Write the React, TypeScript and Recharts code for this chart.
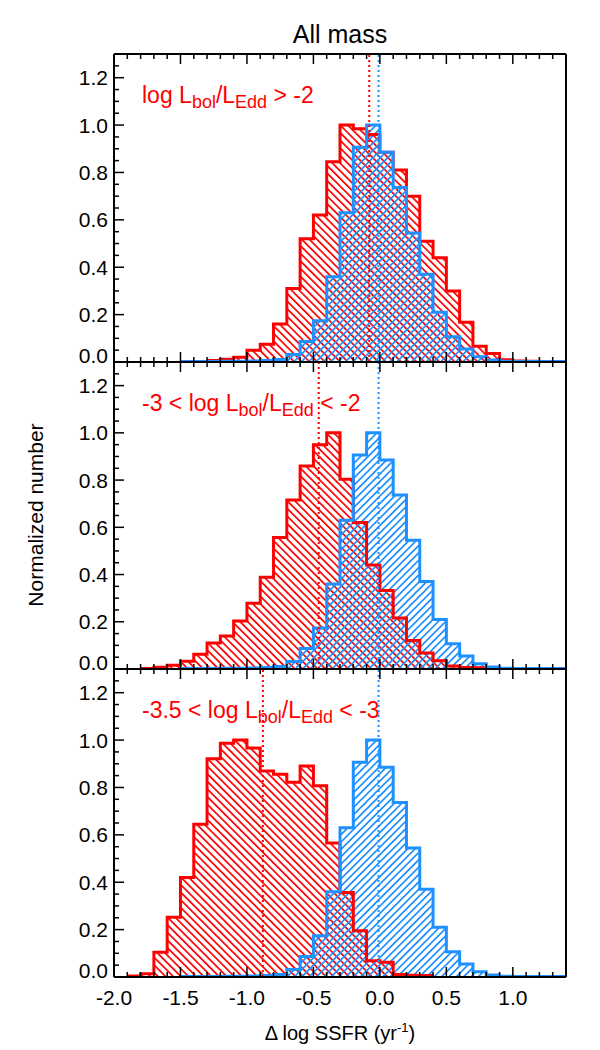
import { ComposedChart, Area, Line, XAxis, YAxis, ReferenceLine } from "recharts";

const RED = "#ff0000";
const BLUE = "#1e90ff";
const FONT = "'Liberation Sans', Arial, Helvetica, sans-serif";

// bin edges of the histograms (also the minor x ticks)
const binEdges = [
  -2.0, -1.9, -1.8, -1.7, -1.6, -1.5, -1.4, -1.3, -1.2, -1.1, -1.0, -0.9, -0.8, -0.7, -0.6, -0.5, -0.4,
  -0.3, -0.2, -0.1, 0.0, 0.1, 0.2, 0.3, 0.4, 0.5, 0.6, 0.7, 0.8, 0.9, 1.0, 1.1, 1.2, 1.3, 1.4,
];
const yTicks = [
  0, 0.05, 0.1, 0.15, 0.2, 0.25, 0.3, 0.35, 0.4, 0.45, 0.5, 0.55, 0.6, 0.65, 0.7, 0.75, 0.8, 0.85, 0.9,
  0.95, 1.0, 1.05, 1.1, 1.15, 1.2, 1.25,
];

// normalized counts per 0.1 bin, first bin = [-2.0, -1.9]
const redHigh = [
  null, null, null, null, null, null, null, 0.006, 0.012, 0.02, 0.05, 0.075, 0.16, 0.31, 0.52, 0.62, 0.845,
  1.0, 0.985, 0.96, 0.885, 0.81, 0.7, 0.51, 0.44, 0.3, 0.168, 0.067, 0.036, 0.01, 0.004, 0.003, 0.002, 0.002,
];
const redMid = [
  null, null, 0.002, 0.007, 0.016, 0.033, 0.062, 0.11, 0.14, 0.203, 0.278, 0.388, 0.557, 0.716, 0.86, 0.95,
  1.0, 0.804, 0.62, 0.44, 0.332, 0.216, 0.121, 0.068, 0.035, 0.013, 0.006, 0.005, 0.002, null, null, null,
  null, null,
];
const redLow = [
  null, 0.004, 0.014, 0.104, 0.252, 0.42, 0.645, 0.921, 0.987, 1.0, 0.967, 0.87, 0.856, 0.822, 0.891, 0.807,
  0.566, 0.357, 0.195, 0.069, 0.062, 0.011, 0.007, 0.006, null, null, null, null, null, null, null, null,
  null, null,
];
const control = [
  null, null, null, null, null, 0.002, 0.002, 0.002, 0.003, 0.003, 0.004, 0.006, 0.011, 0.032, 0.087,
  0.174, 0.36, 0.63, 0.906, 1.0, 0.885, 0.737, 0.545, 0.37, 0.21, 0.107, 0.055, 0.022, 0.008, 0.003, 0.002,
  0.002, 0.002, 0.002,
];

// median offsets (dotted lines)
const redMedians = [-0.08, -0.46, -0.88];
const controlMedian = -0.01;

const panelRanges = ["", "-3 < ", "-3.5 < "];
const panelLimits = [" > -2", " < -2", " < -3"];

function stepValue(arr: (number | null)[], i: number) {
  if (i < arr.length && arr[i] != null) return arr[i];
  if (i > 0 && arr[i - 1] != null) return arr[i - 1];
  return null;
}

function XTick(props: any) {
  const { x, y, payload, dir, label } = props;
  const v = payload.value;
  const major = Math.abs(v * 2 - Math.round(v * 2)) < 1e-6;
  const len = major ? 10 : 5;
  return (
    <g>
      <line x1={x} x2={x} y1={y} y2={y + dir * len} stroke="#000" strokeWidth={1.5} />
      {label && major && v < 1.3 && (
        <text x={x} y={y + 28} textAnchor="middle" fontSize={21} fontFamily={FONT} fill="#000">
          {v.toFixed(1)}
        </text>
      )}
    </g>
  );
}

function YTick(props: any) {
  const { x, y, payload, dir, label } = props;
  const v = payload.value;
  const major = Math.abs(v * 5 - Math.round(v * 5)) < 1e-6;
  const len = major ? 10 : 5;
  return (
    <g>
      <line x1={x} x2={x + dir * len} y1={y} y2={y} stroke="#000" strokeWidth={1.5} />
      {label && major && (
        <text x={x - 6} y={v === 0 ? y - 7 : y} dy="0.36em" textAnchor="end" fontSize={21} fontFamily={FONT} fill="#000">
          {v.toFixed(1)}
        </text>
      )}
    </g>
  );
}

function Panel(props: any) {
  const { idx, red, top, topH, plotH, botH, last, children } = props;
  const rows = binEdges.map((x, i) => ({ x, red: stepValue(red, i), blue: stepValue(control, i) }));
  const axisLine = { stroke: "#000", strokeWidth: 2 };
  return (
    <div style={{ position: "absolute", left: 0, top }}>
      <ComposedChart width={600} height={topH + plotH + botH} data={rows} margin={{ top: 0, right: 0, bottom: 0, left: 0 }}>
        <defs>
          <pattern id={`hr${idx}`} width={5.4} height={5.4} patternUnits="userSpaceOnUse" patternTransform="rotate(-45)">
            <rect x={0} y={0} width={1.7} height={5.4} fill={RED} />
          </pattern>
          <pattern id={`hb${idx}`} width={5.2} height={5.2} patternUnits="userSpaceOnUse" patternTransform="rotate(45)">
            <rect x={0} y={0} width={1.7} height={5.2} fill={BLUE} />
          </pattern>
        </defs>
        <XAxis
          xAxisId="b"
          dataKey="x"
          type="number"
          domain={[-2, 1.4]}
          ticks={binEdges}
          interval={0}
          height={botH}
          tickSize={0}
          tickMargin={0}
          tickLine={false}
          axisLine={axisLine}
          tick={(p: any) => <XTick {...p} dir={-1} label={last} />}
        />
        <XAxis
          xAxisId="t"
          orientation="top"
          dataKey="x"
          type="number"
          domain={[-2, 1.4]}
          ticks={binEdges}
          interval={0}
          height={topH}
          tickSize={0}
          tickMargin={0}
          tickLine={false}
          axisLine={axisLine}
          tick={(p: any) => <XTick {...p} dir={1} label={false} />}
        />
        <YAxis
          yAxisId="l"
          type="number"
          domain={[0, 1.3]}
          ticks={yTicks}
          interval={0}
          width={114}
          tickSize={0}
          tickMargin={0}
          tickLine={false}
          axisLine={axisLine}
          tick={(p: any) => <YTick {...p} dir={1} label={true} />}
        />
        <YAxis
          yAxisId="r"
          orientation="right"
          type="number"
          domain={[0, 1.3]}
          ticks={yTicks}
          interval={0}
          width={34}
          tickSize={0}
          tickMargin={0}
          tickLine={false}
          axisLine={axisLine}
          tick={(p: any) => <YTick {...p} dir={-1} label={false} />}
        />
        <Area xAxisId="b" yAxisId="l" type="stepAfter" dataKey="red" fill={`url(#hr${idx})`} fillOpacity={1} stroke="none" isAnimationActive={false} />
        <Area xAxisId="b" yAxisId="l" type="stepAfter" dataKey="blue" fill={`url(#hb${idx})`} fillOpacity={1} stroke="none" isAnimationActive={false} />
        <Line xAxisId="b" yAxisId="l" type="stepAfter" dataKey="red" stroke={RED} strokeWidth={3} dot={false} activeDot={false} isAnimationActive={false} />
        <Line xAxisId="b" yAxisId="l" type="stepAfter" dataKey="blue" stroke={BLUE} strokeWidth={3} dot={false} activeDot={false} isAnimationActive={false} />
        <ReferenceLine xAxisId="b" yAxisId="l" x={redMedians[idx]} stroke={RED} strokeWidth={2} strokeDasharray="2 3" />
        <ReferenceLine xAxisId="b" yAxisId="l" x={controlMedian} stroke={BLUE} strokeWidth={2} strokeDasharray="2 3" />
        <text x={142} y={topH + 49} fill={RED} fontSize={23} fontFamily={FONT} style={{ whiteSpace: "pre" }}>
          {panelRanges[idx]}log L
          <tspan dy={5} fontSize={18}>bol</tspan>
          <tspan dy={-5}>/L</tspan>
          <tspan dy={5} fontSize={18}>Edd</tspan>
          <tspan dy={-5}>{panelLimits[idx]}</tspan>
        </text>
        {children}
      </ComposedChart>
    </div>
  );
}

export default function App() {
  return (
    <div style={{ position: "absolute", left: 0, top: 0, width: 600, height: 1050, background: "#fff" }}>
      <Panel idx={0} red={redHigh} top={0} topH={54} plotH={308} botH={12} last={false}>
        <text x={340} y={43} textAnchor="middle" fontSize={25} fontFamily={FONT} fill="#000">
          All mass
        </text>
      </Panel>
      <Panel idx={1} red={redMid} top={360} topH={2} plotH={307} botH={12} last={false}>
        <text x={43} y={155} transform="rotate(-90 43 155)" textAnchor="middle" fontSize={21} fontFamily={FONT} fill="#000">
          Normalized number
        </text>
      </Panel>
      <Panel idx={2} red={redLow} top={667} topH={2} plotH={308} botH={73} last={true}>
        <text x={340} y={373} textAnchor="middle" fontSize={20} fontFamily={FONT} fill="#000">
          Δ log SSFR (yr<tspan dy={-8} fontSize={13}>-1</tspan>
          <tspan dy={8}>)</tspan>
        </text>
      </Panel>
    </div>
  );
}
